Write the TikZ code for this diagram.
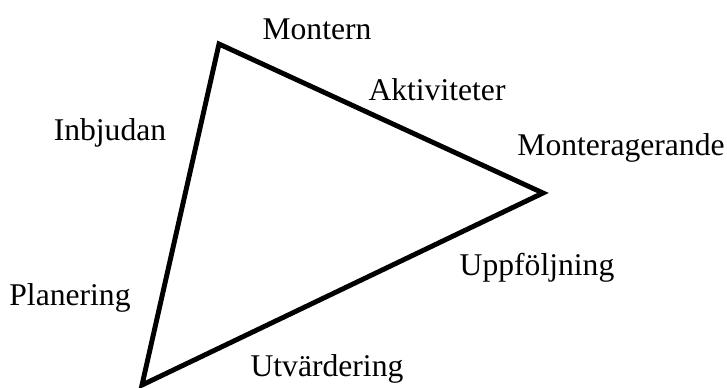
\documentclass[tikz,border=0pt]{standalone}
\usepackage{fontspec}
\setmainfont{Liberation Serif}
\usepackage{tikz}
\usetikzlibrary{positioning}

\tikzset{lbl/.style={font=\fontsize{18}{21}\selectfont, inner sep=0pt}}

\begin{document}
\begin{tikzpicture}[x=0.02cm, y=-0.02cm]
    \useasboundingbox (0,0) rectangle (727,387);
    % Corners of the triangle
    \coordinate (top) at (219,44);
    \coordinate (right) at (543,193);
    \coordinate (bottom) at (142,385);
    \draw[line width=2.8pt, line join=miter] (top) -- (right) -- (bottom) -- cycle;
    % Corner labels
    \node[lbl] (montern) at (317,29) {Montern};
    \node[lbl] (monteragerande) at (621,148) {Monteragerande};
    \node[lbl] (utvardering) at (327,369) {Utvärdering};
    % Side labels
    \node[lbl] (aktiviteter) at (437,90) {Aktiviteter};
    \node[lbl] (inbjudan) at (110,133) {Inbjudan};
    \node[lbl] (uppfoljning) at (537,268) {Uppföljning};
    \node[lbl] (planering) at (70,298) {Planering};
\end{tikzpicture}
\end{document}
